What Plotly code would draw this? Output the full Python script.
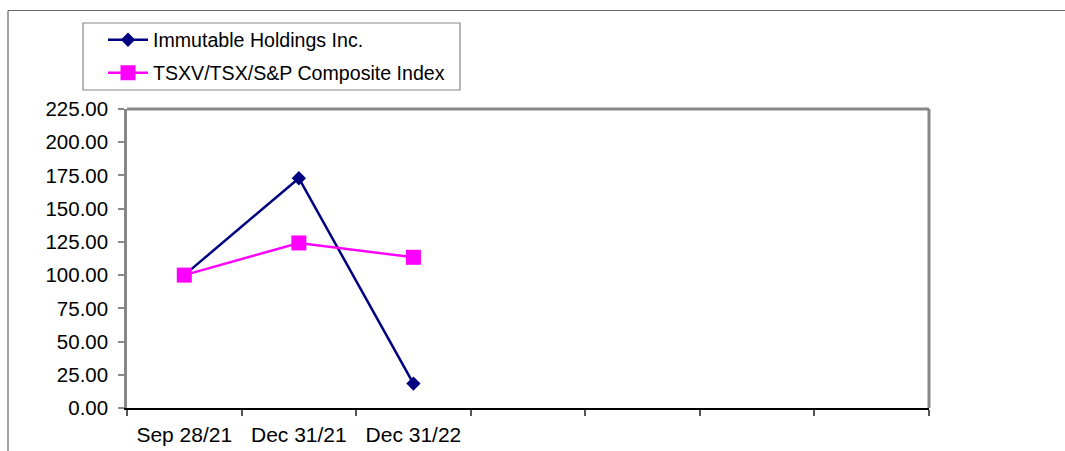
import plotly.graph_objects as go

categories = ["Sep 28/21", "Dec 31/21", "Dec 31/22", " ", "  ", "   ", "    "]
immutable = [100.00, 172.90, 18.40]
composite = [100.00, 124.20, 113.40]
series_names = ["Immutable Holdings Inc.", "TSXV/TSX/S&P Composite Index"]

W, H = 1065, 451
L, R, T, B = 127, 929, 109, 408  # plot area in pixels


def px(x):
    return (x - L) / (R - L)


def py(y):
    return (B - y) / (B - T)


FONT = "Liberation Sans, Arial, sans-serif"

fig = go.Figure()
fig.add_trace(go.Scatter(
    x=categories[:3], y=immutable, mode="lines+markers", name=series_names[0],
    line=dict(color="#000080", width=2.5),
    marker=dict(symbol="diamond", size=11, color="#000080"),
    legend="legend",
))
fig.add_trace(go.Scatter(
    x=categories[:3], y=composite, mode="lines+markers", name=series_names[1],
    line=dict(color="#FF00FF", width=2.5),
    marker=dict(symbol="square", size=15, color="#FF00FF"),
    legend="legend2",
))

legend_common = dict(
    bgcolor="rgba(0,0,0,0)", borderwidth=0, xanchor="left", yanchor="middle",
    font=dict(family=FONT, size=19.6, color="#000000"), itemwidth=40,
)

fig.update_layout(
    width=W, height=H,
    margin=dict(l=L, r=W - R, t=T, b=H - B, pad=0, autoexpand=False),
    paper_bgcolor="white", plot_bgcolor="white",
    showlegend=True,
    legend=dict(x=px(103), y=py(40), **legend_common),
    legend2=dict(x=px(103), y=py(73), **legend_common),
    xaxis=dict(
        type="category", categoryorder="array", categoryarray=categories,
        range=[-0.5, 6.5], tickson="boundaries", ticks="outside", ticklen=6,
        tickcolor="#555555", tickwidth=1.5,
        showline=True, linecolor="#000000", linewidth=2, showgrid=False,
        tickfont=dict(family=FONT, size=21, color="#000000"),
        ticklabelstandoff=7, automargin=False,
        fixedrange=True,
    ),
    yaxis=dict(
        range=[0, 225], dtick=25, tick0=0, tickformat=".2f",
        ticks="outside", ticklen=6, tickcolor="#888888", tickwidth=1.5,
        showline=True, linecolor="#888888", linewidth=2.5, showgrid=False,
        zeroline=False,
        tickfont=dict(family=FONT, size=20.5, color="#000000"),
        ticklabelstandoff=6, automargin=False,
        fixedrange=True,
    ),
    shapes=[
        # plot-area top and right border
        dict(type="line", xref="paper", yref="paper", x0=0, y0=1, x1=1, y1=1,
             line=dict(color="#888888", width=3)),
        dict(type="line", xref="paper", yref="paper", x0=1, y0=0, x1=1, y1=1,
             line=dict(color="#888888", width=3)),
        # outer chart frame (left and top)
        dict(type="line", xref="paper", yref="paper", x0=px(8), y0=py(470), x1=px(8), y1=py(10.5),
             line=dict(color="#666666", width=1.2)),
        dict(type="line", xref="paper", yref="paper", x0=px(8), y0=py(10.5), x1=px(1080), y1=py(10.5),
             line=dict(color="#666666", width=1.2)),
        # legend box
        dict(type="rect", xref="paper", yref="paper", x0=px(83), y0=py(90), x1=px(460), y1=py(23),
             line=dict(color="#888888", width=1.2), fillcolor="rgba(0,0,0,0)"),
    ],
)

fig.write_html("out.html")
